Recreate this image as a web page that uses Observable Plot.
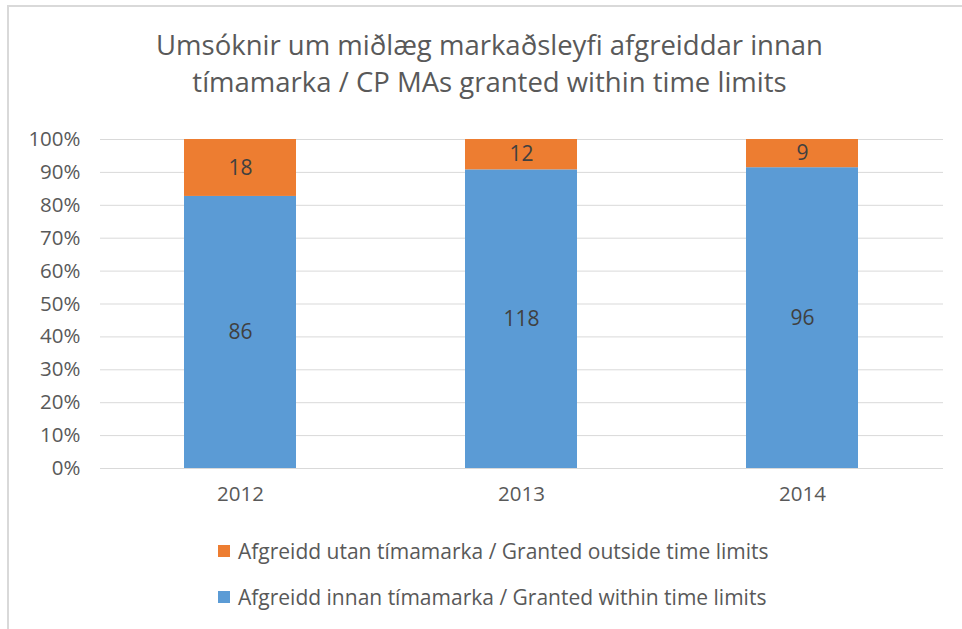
<!DOCTYPE html>
<html>
<head>
<meta charset="utf-8">
<script src="https://cdn.jsdelivr.net/npm/d3@7"></script>
<script src="https://cdn.jsdelivr.net/npm/@observablehq/plot@0.6"></script>
<style>
  html, body { margin: 0; padding: 0; background: #fff; }
  body { width: 962px; height: 629px; position: relative; overflow: hidden; font-family: "Open Sans", sans-serif; }
  #frame { position: absolute; left: 7px; top: 5px; width: 970px; height: 640px; border-top: 2px solid #d9d9d9; border-left: 2px solid #d9d9d9; }
  #title { position: absolute; left: 17px; width: 945px; top: 26px; text-align: center; color: #595959; font-size: 27.5px; line-height: 37px; }
  #chart { position: absolute; left: 0; top: 110px; }
  .legend { position: absolute; left: 218px; color: #595959; font-size: 21px; display: flex; align-items: center; white-space: nowrap; }
  .legend .sw { width: 12px; height: 12px; margin-right: 8px; }
</style>
</head>
<body>
<div id="frame"></div>
<div id="title">Umsóknir um miðlæg markaðsleyfi afgreiddar innan<br>tímamarka / CP MAs granted within time limits</div>
<div id="chart"></div>
<div class="legend" style="top:537px"><div class="sw" style="background:#ED7D31"></div><span>Afgreidd utan tímamarka / Granted outside time limits</span></div>
<div class="legend" style="top:583px"><div class="sw" style="background:#5B9BD5"></div><span>Afgreidd innan tímamarka / Granted within time limits</span></div>
<script>
const years = ["2012", "2013", "2014"];
const seriesNames = ["Afgreidd innan tímamarka / Granted within time limits", "Afgreidd utan tímamarka / Granted outside time limits"];
const withinValues = [86, 118, 96];
const outsideValues = [18, 12, 9];
const seriesColors = ["#5B9BD5", "#ED7D31"];
const yTicks = [0, 0.1, 0.2, 0.3, 0.4, 0.5, 0.6, 0.7, 0.8, 0.9, 1];

const data = [];
years.forEach((y, i) => {
  data.push({year: y, series: seriesNames[0], value: withinValues[i]});
  data.push({year: y, series: seriesNames[1], value: outsideValues[i]});
});

const stackOpts = {x: "year", y: "value", z: "series", offset: "normalize", order: seriesNames};

const chart = Plot.plot({
  width: 962,
  height: 412,
  marginLeft: 100,
  marginRight: 19,
  marginTop: 29,
  marginBottom: 54,
  style: {fontFamily: "Open Sans, sans-serif", background: "transparent"},
  x: {domain: years, paddingInner: 0.6, paddingOuter: 0.3, label: null},
  y: {domain: [0, 1], label: null},
  color: {domain: seriesNames, range: seriesColors},
  marks: [
    Plot.gridY(yTicks, {stroke: "#d9d9d9", strokeOpacity: 1, strokeWidth: 1}),
    Plot.axisY(yTicks, {tickSize: 0, tickPadding: 20, tickFormat: d3.format(".0%"), fontSize: 20.5, fill: "#595959", label: null}),
    Plot.axisX({tickSize: 0, tickPadding: 18, fontSize: 20.5, fill: "#595959", label: null}),
    Plot.barY(data, {...stackOpts, fill: "series"}),
    Plot.text(data, Plot.stackY({...stackOpts, text: "value", fill: "#404040", fontSize: 21}))
  ]
});
document.getElementById("chart").appendChild(chart);
</script>
</body>
</html>
